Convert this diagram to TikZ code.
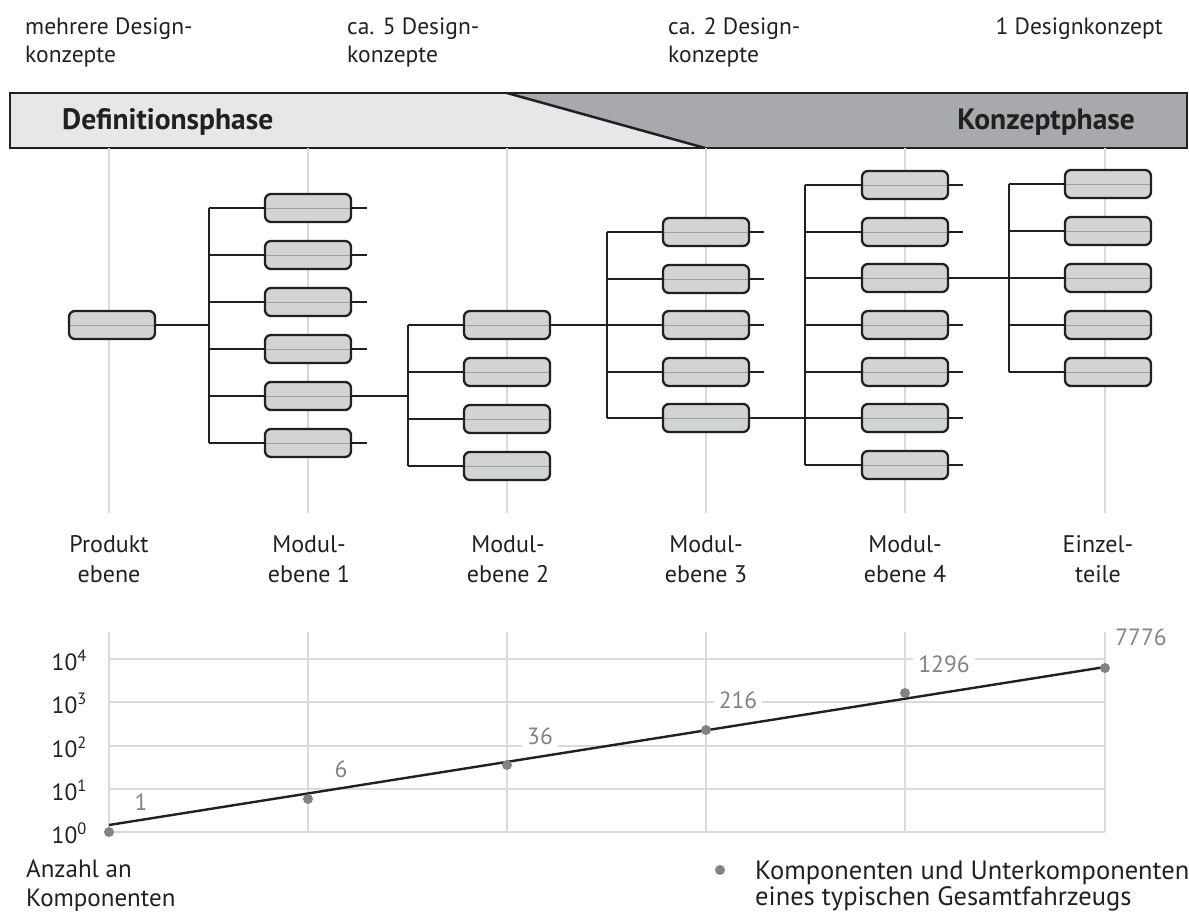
\documentclass[tikz,border=0pt]{standalone}
\usepackage{fontspec}
\setmainfont{PT Sans}
\usetikzlibrary{positioning}

\definecolor{ink}{HTML}{231F20}
\definecolor{boxgray}{HTML}{D1D3D4}
\definecolor{lightph}{HTML}{E6E7E8}
\definecolor{darkph}{HTML}{A7A9AC}
\definecolor{gridgray}{HTML}{D9DADB}
\definecolor{dotgray}{HTML}{808285}

\tikzset{
	modul/.style={draw=ink, line width=2.3pt, fill=boxgray, rounded corners=6pt,
		minimum width=86pt, minimum height=28pt, inner sep=0pt,
		path picture={\draw[gray!75, line width=0.8pt] (path picture bounding box.west) -- (path picture bounding box.east);}},
	link/.style={ink, line width=2.1pt},
	ebene/.style={gridgray, line width=2pt},
	txt/.style={font=\fontsize{23.5}{28}\selectfont, text=ink, inner sep=0pt, align=left},
	phase/.style={font=\fontsize{29.5}{34}\selectfont\bfseries, text=ink, inner sep=0pt},
	punkt/.style={circle, fill=dotgray, minimum size=10pt, inner sep=0pt},
	wert/.style={font=\fontsize{23.5}{28}\selectfont, text=dotgray, fill=white, inner xsep=5pt, inner ysep=2pt},
}

\begin{document}
\begin{tikzpicture}[x=1pt, y=-1pt]
	\useasboundingbox (0,0) rectangle (1189,911);
	% Phasenbalken
	\fill[lightph] (10,93) -- (507,93) -- (705,148) -- (10,148) -- cycle;
	\fill[darkph] (507,93) -- (1187,93) -- (1187,148) -- (705,148) -- cycle;
	\draw[ink, line width=2.5pt] (507,93) -- (705,148);
	\draw[ink, line width=2.5pt] (10,93) rectangle (1187,148);
	\node[phase, anchor=base west] (defph) at (62,129) {Definitionsphase};
	\node[phase, anchor=base east] (konph) at (1135,129) {Konzeptphase};
	% (Grundlinie der letzten Zeile)
	\node[txt, anchor=base west] (dk0) at (25,62) {mehrere Design-\\konzepte};
	\node[txt, anchor=base west] (dk1) at (347,62) {ca. 5 Design-\\konzepte};
	\node[txt, anchor=base west] (dk2) at (668,62) {ca. 2 Design-\\konzepte};
	\node[txt, anchor=base east] (dk3) at (1163,34) {1 Designkonzept};
	% Ebenen
	\foreach \x in {109,308,507,706,905,1105}
		\draw[ebene] (\x,148) -- (\x,513);
	\coordinate (b1) at (209,0);
	\coordinate (b2) at (408,0);
	\coordinate (b3) at (607,0);
	\coordinate (b4) at (805,0);
	\coordinate (b5) at (1009,0);
	%
	\node[modul] (prod) at (112,325) {};
	\foreach \i/\y in {1/208,2/255,3/302,4/349,5/396,6/443}
		\node[modul] (m1-\i) at (308,\y) {};
	\foreach \i/\y in {1/325,2/372,3/419,4/466}
		\node[modul] (m2-\i) at (507,\y) {};
	\foreach \i/\y in {1/232,2/279,3/325,4/372,5/418}
		\node[modul] (m3-\i) at (706,\y) {};
	\foreach \i/\y in {1/185,2/232,3/278,4/325,5/372,6/418,7/465}
		\node[modul] (m4-\i) at (905,\y) {};
	\foreach \i/\y in {1/184,2/231,3/278,4/325,5/372}
		\node[modul] (m5-\i) at (1108,\y) {};
	% Verzweigungen
	\draw[link] (prod.east) -- (prod.east -| b1);
	\draw[link] (m1-1.west -| b1) -- (m1-6.west -| b1);
	\foreach \i in {1,...,6}
		\draw[link] (m1-\i.west) -- (m1-\i.west -| b1);
	\foreach \i in {1,2,3,4,6}
		\draw[link] (m1-\i.east) -- ++(15,0);
	\draw[link] (m1-5.east) -- (m1-5.east -| b2);
	\draw[link] (m2-1.west -| b2) -- (m2-4.west -| b2);
	\foreach \i in {1,...,4}
		\draw[link] (m2-\i.west) -- (m2-\i.west -| b2);
	\draw[link] (m2-1.east) -- (m2-1.east -| b3);
	\draw[link] (m3-1.west -| b3) -- (m3-5.west -| b3);
	\foreach \i in {1,...,5}
		\draw[link] (m3-\i.west) -- (m3-\i.west -| b3);
	\foreach \i in {1,...,4}
		\draw[link] (m3-\i.east) -- ++(14,0);
	\draw[link] (m3-5.east) -- (m3-5.east -| b4);
	\draw[link] (m4-1.west -| b4) -- (m4-7.west -| b4);
	\foreach \i in {1,...,7}
		\draw[link] (m4-\i.west) -- (m4-\i.west -| b4);
	\foreach \i in {1,2,4,5,6,7}
		\draw[link] (m4-\i.east) -- ++(14,0);
	\draw[link] (m4-3.east) -- (m4-3.east -| b5);
	\draw[link] (m5-1.west -| b5) -- (m5-5.west -| b5);
	\foreach \i in {1,...,5}
		\draw[link] (m5-\i.west) -- (m5-\i.west -| b5);
	% Beschriftung der Ebenen
	\tikzset{lab/.style={txt, align=center, anchor=base, font=\fontsize{24}{30}\selectfont}}
	\node[lab] (l0) at (109,582) {Produkt\\ebene};
	\node[lab] (l1) at (309,582) {Modul-\\ebene 1};
	\node[lab] (l2) at (508,582) {Modul-\\ebene 2};
	\node[lab] (l3) at (706,582) {Modul-\\ebene 3};
	\node[lab] (l4) at (905,582) {Modul-\\ebene 4};
	\node[lab] (l5) at (1098,582) {Einzel-\\teile};
	% Diagramm
	\foreach \y in {659,702,746,789,832}
		\draw[ebene] (109,\y) -- (1105,\y);
	\foreach \x in {109,308,507,706,905,1105}
		\draw[ebene] (\x,632) -- (\x,832);
	\node[txt, anchor=east] (e4) at (87,660) {10\textsuperscript{4}};
	\node[txt, anchor=east] (e3) at (87,703) {10\textsuperscript{3}};
	\node[txt, anchor=east] (e2) at (87,747) {10\textsuperscript{2}};
	\node[txt, anchor=east] (e1) at (87,790) {10\textsuperscript{1}};
	\node[txt, anchor=east] (e0) at (87,833) {10\textsuperscript{0}};
	\coordinate (t0) at (109,825);
	\coordinate (t1) at (1105,667);
	\draw[link, line width=2.4pt] (t0) -- (t1);
	\node[punkt] (n0) at (109,832) {};
	\node[punkt] (n1) at (308,799) {};
	\node[punkt] (n2) at (507,765) {};
	\node[punkt] (n3) at (706,730) {};
	\node[punkt] (n4) at (905,693) {};
	\node[punkt] (n5) at (1105,668) {};
	\node[wert] (w0) at (141,802) {1};
	\node[wert] (w1) at (341,769) {6};
	\node[wert] (w2) at (540,736) {36};
	\node[wert] (w3) at (738,700) {216};
	\node[wert] (w4) at (944,664) {1296};
	\node[wert] (w5) at (1141,637) {7776};
	% Legende
	\node[txt, anchor=base west, font=\fontsize{25}{29}\selectfont] (anz) at (26,906) {Anzahl an\\Komponenten};
	\node[punkt] (lg) at (720,870) {};
	\node[txt, anchor=base west, font=\fontsize{26.5}{26}\selectfont] (lgt) at (755,905) {Komponenten und Unterkomponenten\\eines typischen Gesamtfahrzeugs};
\end{tikzpicture}
\end{document}
